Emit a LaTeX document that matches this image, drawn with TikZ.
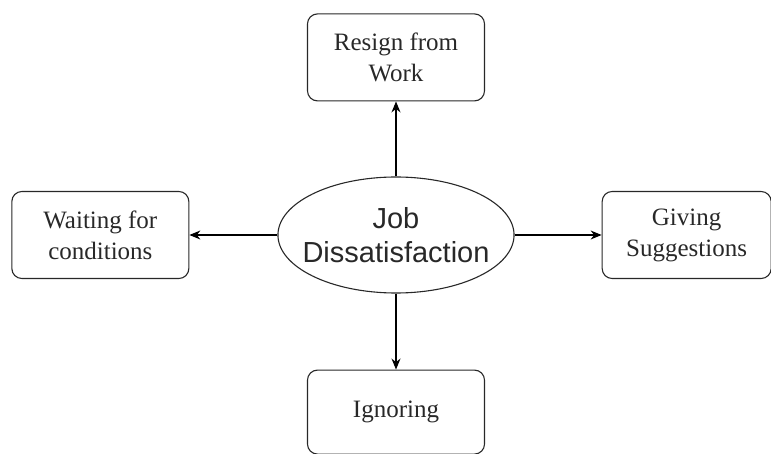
\documentclass[tikz,border=0pt]{standalone}
\usepackage{fontspec}
\setmainfont{Liberation Serif}
\newfontfamily\ellfont{Liberation Sans}
\usetikzlibrary{positioning,shapes.geometric,arrows.meta}
\definecolor{inkgray}{RGB}{40,40,40}

\begin{document}
\begin{tikzpicture}[
  box/.style={draw=inkgray, rounded corners=10pt, align=center, line width=1.1pt,
              minimum width=177pt, minimum height=87pt, inner sep=0pt,
              text=inkgray, font=\fontsize{25}{31}\selectfont},
  core/.style={ellipse, draw=inkgray, align=center, line width=1.1pt,
               minimum width=236pt, minimum height=116pt,
               inner xsep=-10pt, inner ysep=0pt,
               text=inkgray, font=\ellfont\fontsize{29}{34}\selectfont},
  ar/.style={-{Stealth[length=11pt,width=9pt]}, line width=1.1pt, draw=black}
]
\useasboundingbox (0,0) rectangle (771pt,-454pt);
\node[core] (dis) at (396pt,-235pt) {Job\\Dissatisfaction};
\node[box, above=75pt of dis] (resign) {Resign from\\Work};
\node[box, left=88pt of dis] (wait) {Waiting for\\conditions};
\node[box, right=87pt of dis, minimum width=169pt] (sugg) {Giving\\Suggestions};
\node[box, below=76pt of dis, minimum height=84pt] (ignore) {Ignoring};
\draw[ar] (dis) -- (resign);
\draw[ar] (dis) -- (wait);
\draw[ar] (dis) -- (sugg);
\draw[ar] (dis) -- (ignore);
\end{tikzpicture}
\end{document}
